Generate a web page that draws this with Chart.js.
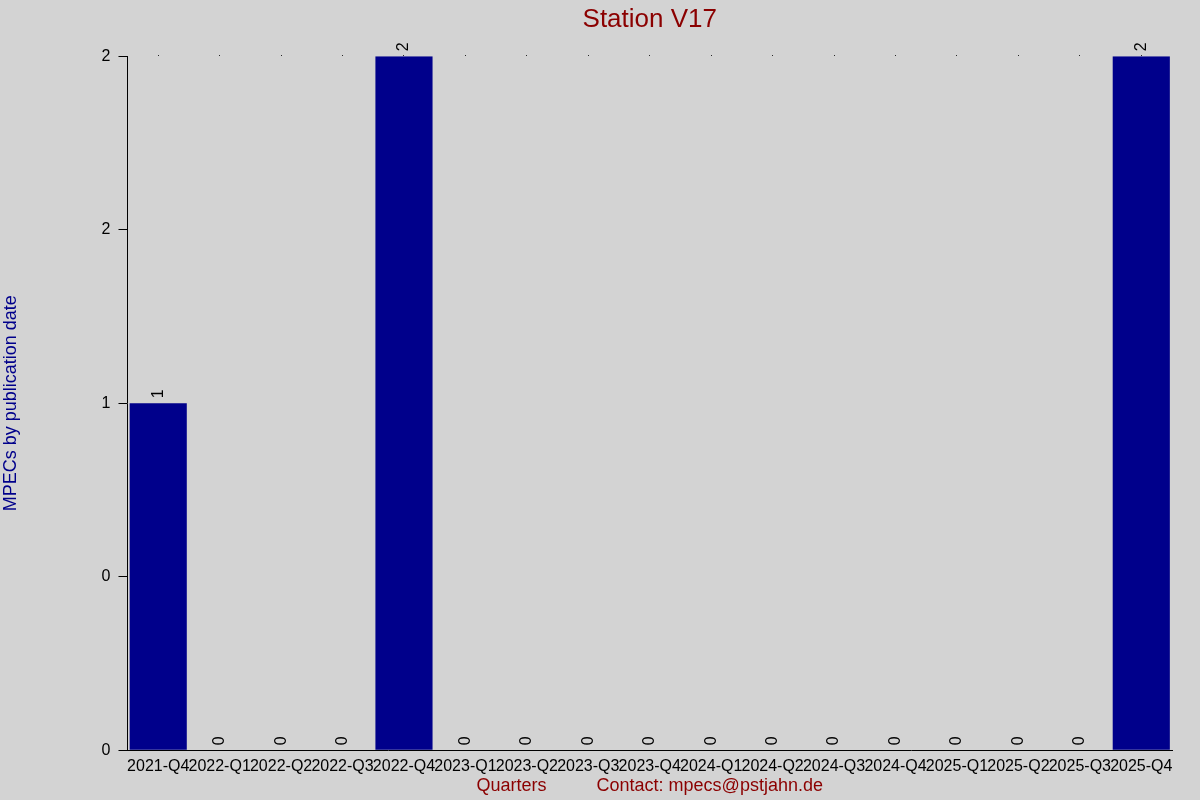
<!DOCTYPE html>
<html>
<head>
<meta charset="utf-8">
<script src="https://cdn.jsdelivr.net/npm/chart.js@4/dist/chart.umd.min.js"></script>
<style>
  body { margin: 0; background: #d3d3d3; }
  #wrap { width: 1200px; height: 800px; }
</style>
</head>
<body>
<div id="wrap"><canvas id="myChart"></canvas></div>
<script>
// data
const quarters = ["2021-Q4", "2022-Q1", "2022-Q2", "2022-Q3", "2022-Q4", "2023-Q1", "2023-Q2", "2023-Q3", "2023-Q4",
  "2024-Q1", "2024-Q2", "2024-Q3", "2024-Q4", "2025-Q1", "2025-Q2", "2025-Q3", "2025-Q4"];
const mpecCounts = [1, 0, 0, 0, 2, 0, 0, 0, 0, 0, 0, 0, 0, 0, 0, 0, 2];
const yTickLabels = ["0", "0", "1", "2", "2"];

const font = "'Liberation Sans', Arial, sans-serif";

// rotated numbers above each bar
const valueLabels = {
  id: "valueLabels",
  afterDatasetsDraw(chart) {
    let ctx = chart.ctx;
    let meta = chart.getDatasetMeta(0);
    ctx.save();
    ctx.font = "16px " + font;
    ctx.fillStyle = "#000";
    ctx.textAlign = "left";
    ctx.textBaseline = "middle";
    meta.data.forEach(function(bar, i) {
      ctx.save();
      ctx.translate(bar.x, bar.y - 5);
      ctx.rotate(-Math.PI / 2);
      ctx.fillText(String(mpecCounts[i]), 0, 0);
      ctx.restore();
    });
    ctx.restore();
  }
};

const bgPlugin = {
  id: "bg",
  beforeDraw(chart) {
    let ctx = chart.ctx;
    ctx.save();
    ctx.fillStyle = "#d3d3d3";
    ctx.fillRect(0, 0, chart.width, chart.height);
    ctx.restore();
  }
};

new Chart(document.getElementById("myChart"), {
  type: "bar",
  data: {
    labels: quarters,
    datasets: [{
      data: mpecCounts,
      backgroundColor: "#00008b",
      borderWidth: 0,
      barPercentage: 0.93,
      categoryPercentage: 1.0
    }]
  },
  options: {
    responsive: true,
    maintainAspectRatio: false,
    animation: false,
    layout: { padding: { top: 4, right: 28, left: 0, bottom: 3 } },
    plugins: {
      legend: { display: false },
      tooltip: { enabled: false },
      title: {
        display: true,
        text: "Station V17",
        color: "#8b0000",
        fullSize: false,
        font: { family: font, size: 26, weight: "normal" },
        padding: { top: 0, bottom: 20 }
      }
    },
    scales: {
      x: {
        grid: { display: false },
        border: { display: true, color: "#000" },
        ticks: {
          color: "#000",
          autoSkip: false,
          maxRotation: 0,
          padding: -1,
          font: { family: font, size: 16 }
        },
        title: {
          display: true,
          text: "Quarters          Contact: mpecs@pstjahn.de",
          color: "#8b0000",
          font: { family: font, size: 18 },
          padding: { top: 0, bottom: 0 }
        }
      },
      xTop: {
        position: "top",
        type: "category",
        labels: quarters,
        offset: true,
        grid: { display: true, offset: false, drawOnChartArea: false, tickLength: 1, color: "#000" },
        border: { display: false },
        ticks: { display: false }
      },
      y: {
        min: 0,
        max: 2,
        grid: { display: true, drawOnChartArea: false, tickLength: 9, color: "#000" },
        border: { display: true, color: "#000" },
        ticks: {
          stepSize: 0.5,
          color: "#000",
          padding: 8,
          font: { family: font, size: 16 },
          callback: function(value, index) {
            return yTickLabels[index];
          }
        },
        title: {
          display: true,
          text: "MPECs by publication date",
          color: "#00008b",
          font: { family: font, size: 18 },
          padding: { top: 0, bottom: 72 }
        }
      }
    }
  },
  plugins: [bgPlugin, valueLabels]
});
</script>
</body>
</html>
